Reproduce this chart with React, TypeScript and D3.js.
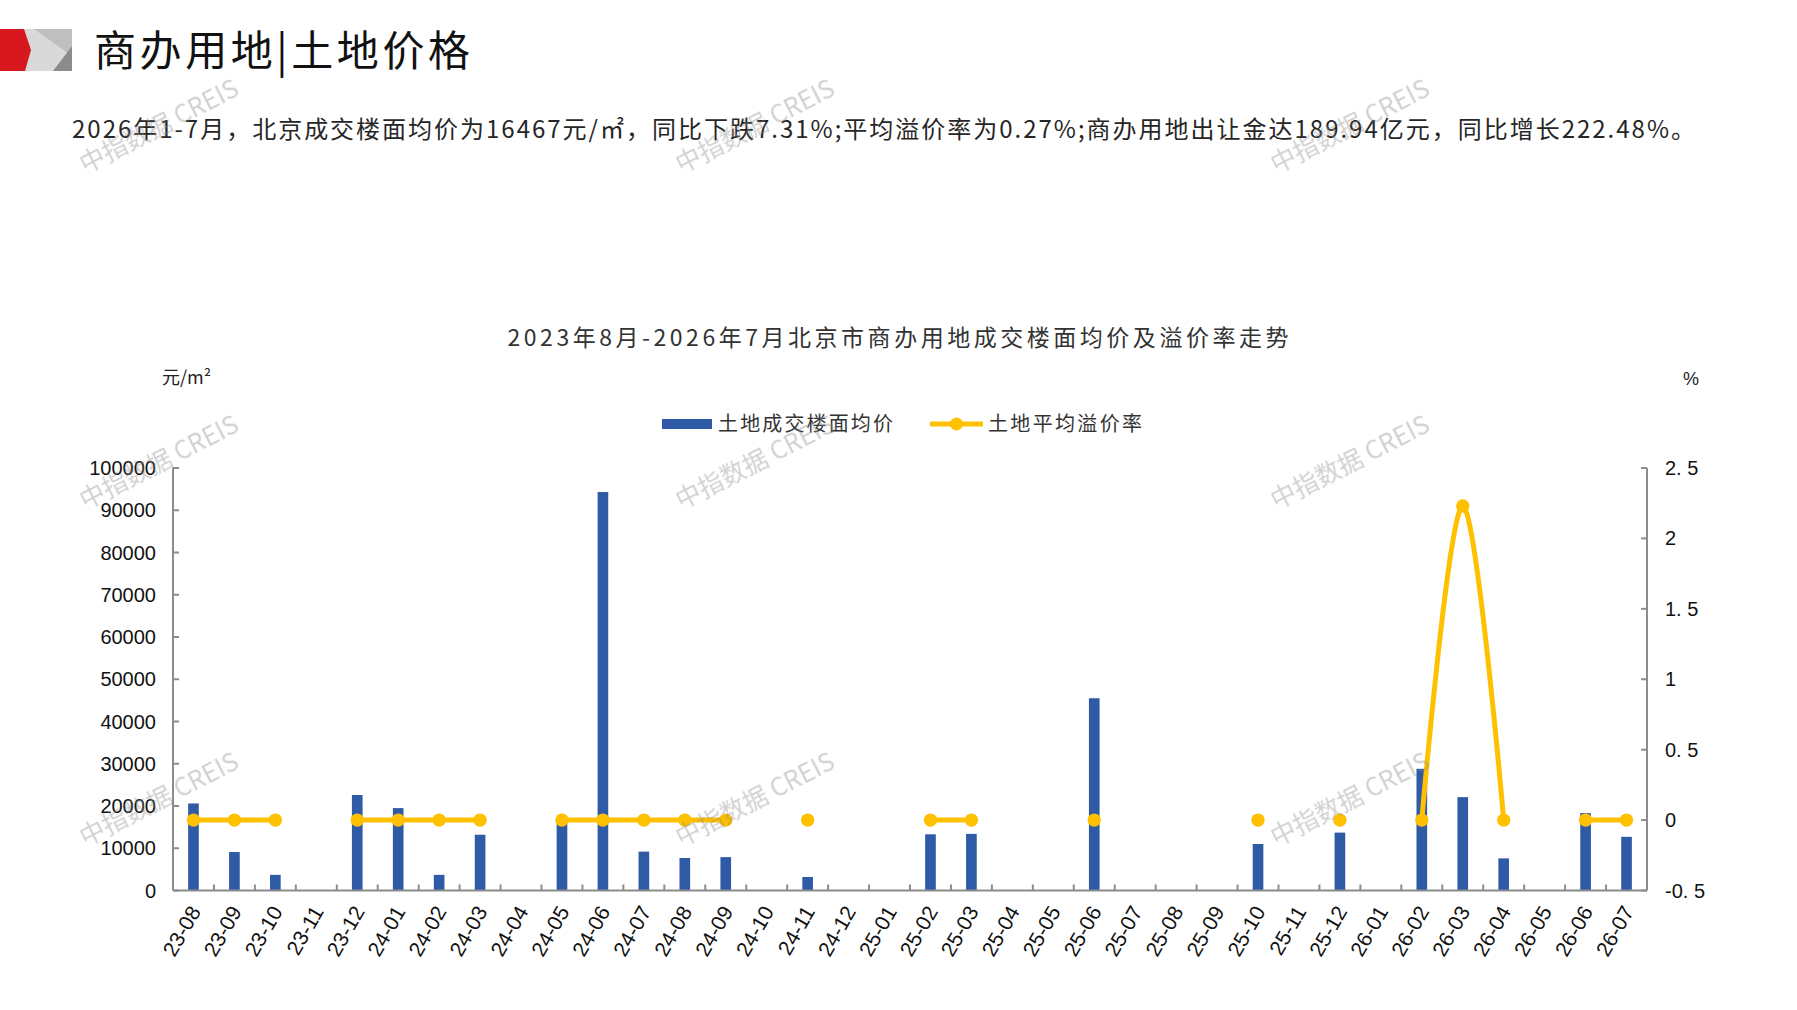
import React, { useEffect, useRef } from 'react';
import * as d3 from 'd3';

const months = [
  '23-08', '23-09', '23-10', '23-11', '23-12',
  '24-01', '24-02', '24-03', '24-04', '24-05', '24-06', '24-07', '24-08', '24-09', '24-10', '24-11', '24-12',
  '25-01', '25-02', '25-03', '25-04', '25-05', '25-06', '25-07', '25-08', '25-09', '25-10', '25-11', '25-12',
  '26-01', '26-02', '26-03', '26-04', '26-05', '26-06', '26-07',
];

// 土地成交楼面均价 (元/㎡)
const landPrice: (number | null)[] = [
  20600, 9100, 3700, null, 22600,
  19500, 3700, 13200, null, 16800, 94300, 9200, 7700, 7900, null, 3200, null,
  null, 13300, 13400, null, null, 45500, null, null, null, 11000, null, 13700,
  null, 28800, 22100, 7600, null, 18300, 12700,
];

// 土地平均溢价率 (%)
const premiumRate: (number | null)[] = [
  0, 0, 0, null, 0,
  0, 0, 0, null, 0, 0, 0, 0, 0, null, 0, null,
  null, 0, 0, null, null, 0, null, null, null, 0, null, 0,
  null, 0, 2.23, 0, null, 0, 0,
];

const leftTicks = [0, 10000, 20000, 30000, 40000, 50000, 60000, 70000, 80000, 90000, 100000];
const rightTicks = [-0.5, 0, 0.5, 1, 1.5, 2, 2.5];

const pageTitle = '商办用地|土地价格';
const summary = '2026年1-7月，北京成交楼面均价为16467元/㎡，同比下跌7.31%;平均溢价率为0.27%;商办用地出让金达189.94亿元，同比增长222.48%。';
const chartTitle = '2023年8月-2026年7月北京市商办用地成交楼面均价及溢价率走势';
const seriesNames = ['土地成交楼面均价', '土地平均溢价率'];
const watermark = '中指数据 CREIS';

const W = 1797;
const H = 1010;
const BLUE = '#2E5AA6';
const YELLOW = '#FFC000';
const AXIS = '#8C8C8C';
const CJK = '"Noto Sans CJK SC", "Noto Sans", sans-serif';
const NUM = '"Liberation Sans", Arial, sans-serif';

export default function App() {
  const svgRef = useRef<SVGSVGElement>(null);

  function draw(elm: SVGSVGElement) {
    const svg = d3.select(elm);
    svg.selectAll('*').remove();

    const plot = { left: 173, right: 1647, top: 468, bottom: 890.5 };

    // header logo
    const logo = svg.append('g');
    logo.append('rect').attr('x', 24).attr('y', 29).attr('width', 48).attr('height', 42).attr('fill', '#D9D9D9');
    logo.append('polygon').attr('points', '34,29 72,29 72,56').attr('fill', '#BFBFBF');
    logo.append('polygon').attr('points', '72,46 72,71 53,71').attr('fill', '#8C8C8C');
    logo.append('polygon').attr('points', '0,29 24,29 31,50 25,71 0,71').attr('fill', '#D7191F');

    svg.append('text')
      .text(pageTitle)
      .attr('x', 94).attr('y', 66)
      .attr('font-family', CJK).attr('font-size', 42)
      .attr('textLength', 376).attr('lengthAdjust', 'spacing')
      .attr('fill', '#111');

    svg.append('text')
      .text(summary)
      .attr('x', 72).attr('y', 138)
      .attr('font-family', CJK).attr('font-size', 24)
      .attr('textLength', 1623).attr('lengthAdjust', 'spacing')
      .attr('fill', '#262626');

    svg.append('text')
      .text(chartTitle)
      .attr('x', 898).attr('y', 346)
      .attr('text-anchor', 'middle')
      .attr('font-family', CJK).attr('font-size', 23)
      .attr('textLength', 781).attr('lengthAdjust', 'spacing')
      .attr('fill', '#333');

    svg.append('text').text('元/m²')
      .attr('x', 162).attr('y', 384)
      .attr('font-family', CJK).attr('font-size', 18).attr('fill', '#222');
    svg.append('text').text('%')
      .attr('x', 1683).attr('y', 385)
      .attr('font-family', NUM).attr('font-size', 18).attr('fill', '#222');

    // legend
    const lg = svg.append('g');
    lg.append('rect').attr('x', 662).attr('y', 419).attr('width', 50).attr('height', 10).attr('fill', BLUE);
    lg.append('text').text(seriesNames[0])
      .attr('x', 718).attr('y', 431)
      .attr('font-family', CJK).attr('font-size', 20)
      .attr('textLength', 175).attr('lengthAdjust', 'spacing').attr('fill', '#333');
    lg.append('line').attr('x1', 930).attr('x2', 983).attr('y1', 424).attr('y2', 424)
      .attr('stroke', YELLOW).attr('stroke-width', 5);
    lg.append('circle').attr('cx', 956.5).attr('cy', 424).attr('r', 6.5).attr('fill', YELLOW);
    lg.append('text').text(seriesNames[1])
      .attr('x', 988).attr('y', 431)
      .attr('font-family', CJK).attr('font-size', 20)
      .attr('textLength', 154).attr('lengthAdjust', 'spacing').attr('fill', '#333');

    // scales
    const x = d3.scaleBand<string>().domain(months).range([plot.left, plot.right]).padding(0);
    const yL = d3.scaleLinear().domain([0, 100000]).range([plot.bottom, plot.top]);
    const yR = d3.scaleLinear().domain([-0.5, 2.5]).range([plot.bottom, plot.top]);
    const barW = x.bandwidth() * 0.26;

    // bars
    svg.append('g')
      .selectAll('rect')
      .data(months.map((m, i) => ({ m, v: landPrice[i] })).filter(d => d.v != null))
      .enter()
      .append('rect')
      .attr('x', d => (x(d.m) as number) + x.bandwidth() / 2 - barW / 2)
      .attr('y', d => yL(d.v as number))
      .attr('width', barW)
      .attr('height', d => yL(0) - yL(d.v as number))
      .attr('fill', BLUE);

    // axes
    const axisG = svg.append('g').attr('stroke', AXIS).attr('stroke-width', 2);
    axisG.append('line').attr('x1', plot.left).attr('x2', plot.left).attr('y1', plot.top).attr('y2', plot.bottom);
    axisG.append('line').attr('x1', plot.right).attr('x2', plot.right).attr('y1', plot.top).attr('y2', plot.bottom);
    axisG.append('line').attr('x1', plot.left).attr('x2', plot.right).attr('y1', plot.bottom).attr('y2', plot.bottom);

    axisG.selectAll('.lt').data(leftTicks).enter().append('line')
      .attr('x1', plot.left).attr('x2', plot.left + 6)
      .attr('y1', d => yL(d)).attr('y2', d => yL(d));
    axisG.selectAll('.rt').data(rightTicks).enter().append('line')
      .attr('x1', plot.right - 6).attr('x2', plot.right)
      .attr('y1', d => yR(d)).attr('y2', d => yR(d));
    axisG.selectAll('.bt').data(months.slice(1)).enter().append('line')
      .attr('x1', d => x(d) as number).attr('x2', d => x(d) as number)
      .attr('y1', plot.bottom - 6).attr('y2', plot.bottom);

    svg.append('g').selectAll('text').data(leftTicks).enter().append('text')
      .text(d => String(d))
      .attr('x', plot.left - 17).attr('y', d => yL(d) + 7)
      .attr('text-anchor', 'end')
      .attr('font-family', NUM).attr('font-size', 20).attr('fill', '#111');

    svg.append('g').selectAll('text').data(rightTicks).enter().append('text')
      .text(d => (Number.isInteger(d) ? String(d) : d.toFixed(1).replace('.', '. ')))
      .attr('x', plot.right + 18).attr('y', d => yR(d) + 7)
      .attr('font-family', NUM).attr('font-size', 20).attr('fill', '#111');

    svg.append('g').selectAll('text').data(months).enter().append('text')
      .text(d => d)
      .attr('transform', d => `translate(${(x(d) as number) + x.bandwidth() / 2 + 8},${plot.bottom + 21}) rotate(-60)`)
      .attr('text-anchor', 'end')
      .attr('font-family', NUM).attr('font-size', 21).attr('fill', '#111');

    // premium rate line
    const pts = months.map((m, i) => ({ m, v: premiumRate[i] }));
    const line = d3.line<{ m: string; v: number | null }>()
      .defined(d => d.v != null)
      .x(d => (x(d.m) as number) + x.bandwidth() / 2)
      .y(d => yR(d.v as number))
      .curve(d3.curveCardinal.tension(0));
    svg.append('path')
      .attr('d', line(pts))
      .attr('fill', 'none')
      .attr('stroke', YELLOW)
      .attr('stroke-width', 5)
      .attr('stroke-linejoin', 'round');
    svg.append('g').selectAll('circle')
      .data(pts.filter(d => d.v != null))
      .enter().append('circle')
      .attr('cx', d => (x(d.m) as number) + x.bandwidth() / 2)
      .attr('cy', d => yR(d.v as number))
      .attr('r', 6.7)
      .attr('fill', YELLOW);

    // watermarks
    const wmX = [159, 755, 1350];
    const wmY = [126, 462, 799];
    const wm = svg.append('g').attr('opacity', 0.4);
    wmY.forEach(cy => wmX.forEach(cx => {
      wm.append('text').text(watermark)
        .attr('transform', `translate(${cx},${cy}) rotate(-27)`)
        .attr('text-anchor', 'middle').attr('dy', 9)
        .attr('font-family', CJK).attr('font-size', 25)
        .attr('fill', '#8a8a8a');
    }));
  }

  useEffect(() => {
    if (svgRef.current) draw(svgRef.current);
  }, []);

  return (
    <svg
      ref={svgRef}
      width={W}
      height={H}
      style={{ position: 'absolute', left: 0, top: 0, background: '#fff', display: 'block' }}
    />
  );
}
